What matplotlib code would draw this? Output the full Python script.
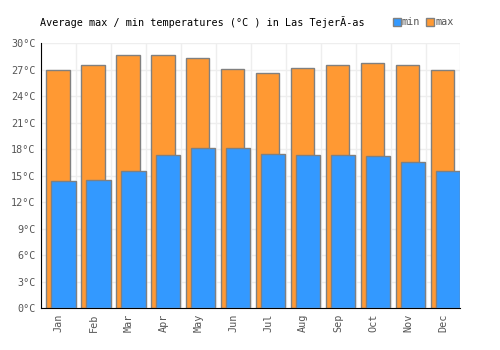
import numpy as np
import matplotlib
matplotlib.use("Agg")
import matplotlib.pyplot as plt
from matplotlib.lines import Line2D

# datos
meses = ["Jan", "Feb", "Mar", "Apr", "May", "Jun", "Jul", "Aug", "Sep", "Oct", "Nov", "Dec"]
t_max = [27.0, 27.6, 28.7, 28.7, 28.4, 27.1, 26.7, 27.2, 27.6, 27.8, 27.5, 27.0]
t_min = [14.4, 14.5, 15.6, 17.4, 18.1, 18.1, 17.5, 17.4, 17.4, 17.3, 16.6, 15.6]
y_ticks = [0, 3, 6, 9, 12, 15, 18, 21, 24, 27, 30]

naranja = "#FF9933"
azul = "#3399FF"
borde = "#808080"
gris = "#555555"
fs = 7.3

plt.rcParams['font.family'] = ['DejaVu Sans Mono']

fig = plt.figure(figsize=(5, 3.5), dpi=100)
ax = fig.add_axes([0.082, 0.119, 0.839, 0.757])

x = np.arange(len(meses))
ax.bar(x - 0.015, t_max, width=0.67, color=naranja, edgecolor=borde, linewidth=1, zorder=2)
ax.bar(x + 0.14, t_min, width=0.70, color=azul, edgecolor=borde, linewidth=1, zorder=3)

ax.set_xlim(-0.5, len(meses) - 0.5)
ax.set_ylim(0, 30)
ax.set_yticks(y_ticks)
ax.set_yticklabels([f"{v}°C" for v in y_ticks], color=gris, fontsize=fs)
ax.set_xticks(x)
ax.set_xticklabels(meses, rotation=90, color=gris, fontsize=fs)
ax.set_xticks(np.arange(-0.5, len(meses), 1), minor=True)
ax.tick_params(axis='both', which='both', length=0, pad=4)

ax.grid(True, axis='y', color="#eeeeee", linewidth=1, zorder=0)
ax.grid(True, axis='x', which='minor', color="#eeeeee", linewidth=1, zorder=0)
ax.grid(False, axis='x', which='major')
ax.set_axisbelow(True)

for lado in ['top', 'right']:
    ax.spines[lado].set_visible(False)
ax.spines['left'].set_color('black')
ax.spines['bottom'].set_color('black')

fig.text(0.08, 0.937, "Average max / min temperatures (°C ) in Las TejerÃ-as",
         fontsize=fs, color="black", ha='left', va='center')

handles = [
    Line2D([], [], marker='s', linestyle='', markersize=5.5, markerfacecolor=azul, markeredgecolor=borde),
    Line2D([], [], marker='s', linestyle='', markersize=5.5, markerfacecolor=naranja, markeredgecolor=borde),
]
fig.legend(handles, ["min", "max"], loc='center', bbox_to_anchor=(0.845, 0.937), ncol=2,
           frameon=False, fontsize=fs, handletextpad=0.0, columnspacing=0.5,
           labelcolor=gris, handlelength=1.0)

fig.savefig("out.png", dpi=100)
